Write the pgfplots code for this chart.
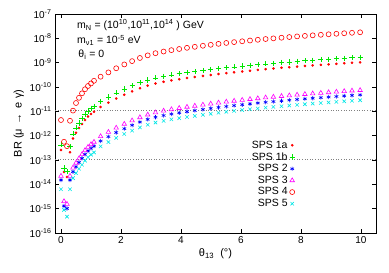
\documentclass[border=0pt]{standalone}
\usepackage{fontspec}
\setmainfont{Liberation Sans}
\usepackage{pgfplots}
\pgfplotsset{compat=1.18}
\usepackage{pgfplotstable}

\pgfplotstableread{
t s1a s1b s2 s3 s4 s5
0.0 2.6e-13 4.2e-13 1.51e-14 2.2e-14 4.4e-12 6.3e-15
0.1 3.2e-14 4.7e-14 1.29e-15 2.0e-15 5.6e-13 8.9e-16
0.2 2.0e-14 3.3e-14 1.02e-15 1.55e-15 3.7e-13 4.7e-16
0.3 2.1e-13 3.5e-13 1.51e-14 2.2e-14 4.1e-12 6.3e-15
0.4 7.6e-13 1.19e-12 3.31e-14 4.8e-14 1.07e-11 1.8e-14
0.5 1.31e-12 2.1e-12 5.25e-14 7.6e-14 2.2e-11 2.9e-14
0.6 2.06e-12 3.33e-12 7.94e-14 1.15e-13 3.6e-11 4.4e-14
0.7 3.04e-12 5.03e-12 1.17e-13 1.7e-13 5.5e-11 6.4e-14
0.8 4.42e-12 7.48e-12 1.70e-13 2.5e-13 8.1e-11 9.4e-14
0.9 6.08e-12 1.03e-11 2.34e-13 3.4e-13 1.1e-10 1.29e-13
1.0 7.85e-12 1.33e-11 3.02e-13 4.4e-13 1.4e-10 1.66e-13
1.1 9.67e-12 1.60e-11 3.72e-13 5.5e-13 1.8e-10 2.05e-13
1.32 1.51e-11 2.59e-11 6.03e-13 9.35e-13 2.65e-10 3.62e-13
1.58 2.27e-11 3.90e-11 9.12e-13 1.41e-12 3.99e-10 5.47e-13
1.84 3.35e-11 5.74e-11 1.35e-12 2.09e-12 5.89e-10 8.1e-13
2.11 4.82e-11 8.24e-11 1.95e-12 3.02e-12 8.46e-10 1.17e-12
2.37 6.62e-11 1.13e-10 2.69e-12 4.17e-12 1.16e-9 1.61e-12
2.63 8.89e-11 1.52e-10 3.63e-12 5.63e-12 1.56e-9 2.18e-12
2.89 1.14e-10 1.94e-10 4.68e-12 7.25e-12 2.00e-9 2.81e-12
3.15 1.40e-10 2.37e-10 5.75e-12 8.91e-12 2.45e-9 3.45e-12
3.42 1.64e-10 2.78e-10 6.76e-12 1.05e-11 2.87e-9 4.06e-12
3.68 1.87e-10 3.17e-10 7.76e-12 1.20e-11 3.27e-9 4.66e-12
3.94 2.09e-10 3.53e-10 8.71e-12 1.35e-11 3.65e-9 5.23e-12
4.20 2.34e-10 3.94e-10 9.77e-12 1.51e-11 4.07e-9 5.86e-12
4.46 2.57e-10 4.33e-10 1.08e-11 1.67e-11 4.48e-9 6.48e-12
4.73 2.84e-10 4.78e-10 1.20e-11 1.86e-11 4.96e-9 7.2e-12
4.99 3.12e-10 5.23e-10 1.32e-11 2.05e-11 5.43e-9 7.92e-12
5.25 3.41e-10 5.71e-10 1.45e-11 2.25e-11 5.93e-9 8.7e-12
5.51 3.72e-10 6.22e-10 1.59e-11 2.46e-11 6.47e-9 9.54e-12
5.77 4.03e-10 6.73e-10 1.73e-11 2.68e-11 7.01e-9 1.04e-11
6.04 4.36e-10 7.26e-10 1.88e-11 2.91e-11 7.58e-9 1.13e-11
6.30 4.69e-10 7.80e-10 2.03e-11 3.15e-11 8.14e-9 1.22e-11
6.56 5.04e-10 8.36e-10 2.19e-11 3.39e-11 8.74e-9 1.31e-11
6.82 5.40e-10 8.94e-10 2.36e-11 3.66e-11 9.37e-9 1.42e-11
7.08 5.77e-10 9.53e-10 2.53e-11 3.92e-11 9.99e-9 1.52e-11
7.35 6.13e-10 1.01e-9 2.70e-11 4.19e-11 1.06e-8 1.62e-11
7.61 6.51e-10 1.07e-9 2.88e-11 4.46e-11 1.13e-8 1.73e-11
7.87 6.93e-10 1.14e-9 3.08e-11 4.77e-11 1.20e-8 1.85e-11
8.13 7.32e-10 1.20e-9 3.27e-11 5.07e-11 1.26e-8 1.96e-11
8.39 7.72e-10 1.26e-9 3.46e-11 5.36e-11 1.33e-8 2.08e-11
8.66 8.13e-10 1.33e-9 3.66e-11 5.67e-11 1.40e-8 2.20e-11
8.92 8.55e-10 1.39e-9 3.87e-11 6.00e-11 1.47e-8 2.32e-11
9.18 8.98e-10 1.46e-9 4.08e-11 6.32e-11 1.54e-8 2.45e-11
9.44 9.44e-10 1.53e-9 4.31e-11 6.68e-11 1.62e-8 2.59e-11
9.70 9.88e-10 1.60e-9 4.53e-11 7.02e-11 1.69e-8 2.72e-11
9.97 1.03e-9 1.66e-9 4.75e-11 7.36e-11 1.77e-8 2.85e-11
}\data

\definecolor{gred}{RGB}{255,0,0}
\definecolor{ggreen}{RGB}{0,230,0}
\definecolor{gblue}{RGB}{0,0,255}
\definecolor{gmag}{RGB}{255,0,255}
\definecolor{gcyan}{RGB}{0,230,230}

\begin{document}
\begin{tikzpicture}[x=1pt,y=1pt]
\path[use as bounding box] (0,0) rectangle (389,273);
\begin{axis}[
  at={(55pt,40pt)}, anchor=south west,
  scale only axis, width=321pt, height=219pt,
  xmin=-0.2, xmax=10.5,
  ymode=log, log basis y=10, ymin=1e-16, ymax=1e-7,
  xtick={0,2,...,10},
  ytickten={-16,...,-7},
  yticklabel={\pgfmathparse{int(round(\tick))}10\textsuperscript{\pgfmathresult}},
  /pgf/number format/assume math mode=true,
  tick label style={font=\fontsize{10}{12}\selectfont},
  label style={font=\fontsize{11}{13}\selectfont},
  tick align=inside, tick pos=both,
  major tick length=4pt, minor tick length=2pt,
  axis line style={line width=0.7pt},
  every tick/.style={black, line width=0.5pt},
  xlabel={θ\textsubscript{13}\ \ (°)},
  ylabel={BR (μ\,\ →\ \,e γ)},
  xlabel style={yshift=2pt},
  ylabel style={yshift=-1pt},
  legend cell align=right, legend plot pos=right,
  legend style={draw=none, fill=none, font=\fontsize{10.5}{12.6}\selectfont,
    at={(rel axis cs:0.757,0.44)}, anchor=north east, row sep=-1.2pt},
]
\addplot[gray, dotted, line width=0.6pt, forget plot] coordinates {(-0.2,1.1e-11) (10.5,1.1e-11)};
\addplot[gray, dotted, line width=0.6pt, forget plot] coordinates {(-0.2,1.1e-13) (10.5,1.1e-13)};
\addplot[only marks, mark=*, mark size=1.1pt, color=gred] table[x=t,y=s1a] {\data};
\addlegendentry{SPS 1a}
\addplot[only marks, mark=+, mark size=2.6pt, color=ggreen, line width=0.6pt] table[x=t,y=s1b] {\data};
\addlegendentry{SPS 1b}
\addplot[only marks, mark=asterisk, mark size=2.1pt, color=gblue, line width=0.6pt] table[x=t,y=s2] {\data};
\addlegendentry{SPS 2}
\addplot[only marks, mark=triangle, mark size=2.6pt, color=gmag, line width=0.6pt] table[x=t,y=s3] {\data};
\addlegendentry{SPS 3}
\addplot[only marks, mark=o, mark size=2.5pt, color=gred, line width=0.6pt] table[x=t,y=s4] {\data};
\addlegendentry{SPS 4}
\addplot[only marks, mark=x, mark size=2.4pt, color=gcyan, line width=0.6pt] table[x=t,y=s5] {\data};
\addlegendentry{SPS 5}
\node[anchor=west, font=\fontsize{10.5}{12.6}\selectfont] at (rel axis cs:0.058,0.95) {m\textsubscript{N} = (10\textsuperscript{10},10\textsuperscript{11},10\textsuperscript{14} ) GeV};
\node[anchor=west, font=\fontsize{10.5}{12.6}\selectfont] at (rel axis cs:0.058,0.88) {m\textsubscript{ν1} = 10\textsuperscript{-5} eV};
\node[anchor=west, font=\fontsize{10.5}{12.6}\selectfont] at (rel axis cs:0.062,0.813) {θ\textsubscript{i} = 0};
\end{axis}
\end{tikzpicture}
\end{document}
